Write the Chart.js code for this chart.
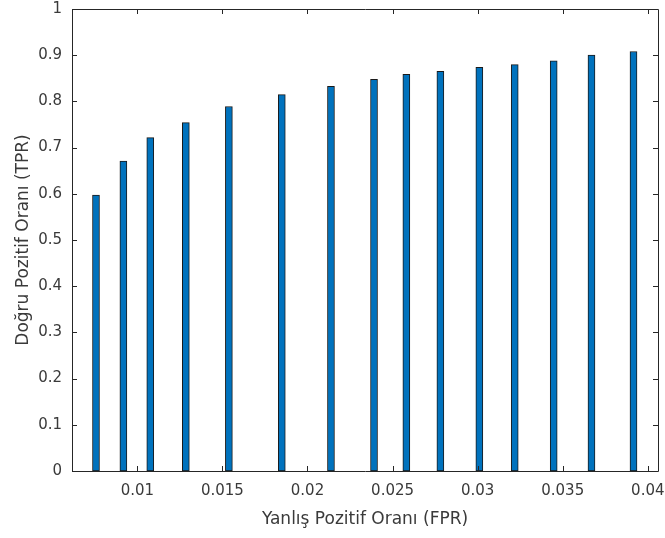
<!DOCTYPE html>
<html lang="tr">
<head>
    <meta charset="UTF-8">
    <title>TPR - FPR</title>
    <script src="https://cdn.jsdelivr.net/npm/chart.js"></script>
    <style>
        body {
            margin: 0;
            background: #ffffff;
        }
        #wrap {
            width: 665px;
            height: 538px;
        }
    </style>
</head>
<body>
    <div id="wrap">
        <canvas id="barChart" width="665" height="538"></canvas>
    </div>

    <script>
        // false positive rate (bar positions) and true positive rate (bar heights)
        const fprValues = [0.00757, 0.00918, 0.01076, 0.01285, 0.01538, 0.01849, 0.02138, 0.02391,
                           0.02581, 0.02781, 0.03010, 0.03218, 0.03447, 0.03669, 0.03916];
        const tprValues = [0.597, 0.671, 0.7215, 0.754, 0.789, 0.8146, 0.8326, 0.8477,
                           0.8586, 0.865, 0.874, 0.8795, 0.888, 0.9, 0.908];

        const xTicks = [0.01, 0.015, 0.02, 0.025, 0.03, 0.035, 0.04];
        const yTicks = [0, 0.1, 0.2, 0.3, 0.4, 0.5, 0.6, 0.7, 0.8, 0.9, 1];

        const axisColor = '#262626';
        const textColor = '#3a3a3a';

        // matlab style box with inward ticks on all four sides
        const boxPlugin = {
            id: 'matlabBox',
            afterDraw(chart) {
                const ctx = chart.ctx;
                const a = chart.chartArea;
                const xs = chart.scales.x;
                const ys = chart.scales.y;
                const len = 5;
                ctx.save();
                ctx.strokeStyle = axisColor;
                ctx.lineWidth = 1;
                ctx.beginPath();
                ctx.rect(Math.round(a.left) + 0.5, Math.round(a.top) + 0.5,
                         Math.round(a.right - a.left), Math.round(a.bottom - a.top));
                xs.ticks.forEach(t => {
                    const px = Math.round(xs.getPixelForValue(t.value)) + 0.5;
                    ctx.moveTo(px, a.bottom);
                    ctx.lineTo(px, a.bottom - len);
                    ctx.moveTo(px, a.top);
                    ctx.lineTo(px, a.top + len);
                });
                ys.ticks.forEach(t => {
                    const py = Math.round(ys.getPixelForValue(t.value)) + 0.5;
                    ctx.moveTo(a.left, py);
                    ctx.lineTo(a.left + len, py);
                    ctx.moveTo(a.right, py);
                    ctx.lineTo(a.right - len, py);
                });
                ctx.stroke();
                ctx.restore();
            }
        };

        const ctx = document.getElementById('barChart').getContext('2d');
        new Chart(ctx, {
            type: 'bar',
            data: {
                datasets: [{
                    label: 'TPR',
                    data: fprValues.map((x, i) => ({ x: x, y: tprValues[i] })),
                    backgroundColor: '#0072BD',
                    borderColor: '#1a1a1a',
                    borderWidth: 1,
                    borderSkipped: false,
                    barThickness: 7
                }]
            },
            options: {
                responsive: false,
                animation: false,
                layout: {
                    padding: { top: 9, right: 7, left: 0, bottom: 0 }
                },
                plugins: {
                    legend: { display: false },
                    tooltip: { enabled: false }
                },
                scales: {
                    x: {
                        type: 'linear',
                        offset: false,
                        min: 0.00616,
                        max: 0.0406,
                        afterBuildTicks: scale => {
                            scale.ticks = xTicks.map(v => ({ value: v }));
                        },
                        afterFit: scale => {
                            scale.height = 67;
                            scale.paddingLeft = 0;
                            scale.paddingRight = 0;
                        },
                        grid: { display: false, drawTicks: false },
                        border: { display: false },
                        ticks: {
                            padding: 11,
                            color: textColor,
                            maxRotation: 0,
                            font: { family: 'DejaVu Sans', size: 15 },
                            callback: v => String(+v.toFixed(4))
                        },
                        title: {
                            display: true,
                            text: 'Yanlış Pozitif Oranı (FPR)',
                            color: textColor,
                            padding: { top: 0, bottom: 8 },
                            font: { family: 'DejaVu Sans', size: 17 }
                        }
                    },
                    y: {
                        min: 0,
                        max: 1,
                        afterBuildTicks: scale => {
                            scale.ticks = yTicks.map(v => ({ value: v }));
                        },
                        afterFit: scale => {
                            scale.width = 72;
                            scale.paddingTop = 0;
                            scale.paddingBottom = 0;
                        },
                        grid: { display: false, drawTicks: false },
                        border: { display: false },
                        ticks: {
                            padding: 10,
                            color: textColor,
                            font: { family: 'DejaVu Sans', size: 15 },
                            callback: v => String(+v.toFixed(2))
                        },
                        title: {
                            display: true,
                            text: 'Doğru Pozitif Oranı (TPR)',
                            color: textColor,
                            padding: { top: 13, bottom: 0 },
                            font: { family: 'DejaVu Sans', size: 17 }
                        }
                    }
                }
            },
            plugins: [boxPlugin]
        });
    </script>
</body>
</html>
